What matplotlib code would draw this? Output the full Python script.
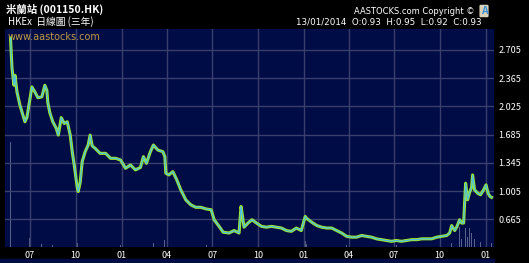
import matplotlib
matplotlib.use("Agg")
import matplotlib.pyplot as plt
import matplotlib.dates as mdates
import numpy as np
import pandas as pd

# ==========================================================
# DATA
# ==========================================================

dates = [
    "2011-05-23", "2011-05-26", "2011-05-30", "2011-06-01", "2011-06-05",
    "2011-06-11", "2011-06-17", "2011-06-21", "2011-06-25", "2011-06-29",
    "2011-07-05", "2011-07-11", "2011-07-17", "2011-07-25", "2011-07-31",
    "2011-08-04", "2011-08-06", "2011-08-10", "2011-08-16", "2011-08-23",
    "2011-08-27", "2011-09-02", "2011-09-08", "2011-09-14", "2011-09-20",
    "2011-09-24", "2011-09-28", "2011-10-04", "2011-10-06", "2011-10-10",
    "2011-10-14", "2011-10-20", "2011-10-26", "2011-10-30", "2011-11-03",
    "2011-11-09", "2011-11-19", "2011-11-30", "2011-12-10", "2011-12-20",
    "2011-12-30", "2012-01-09", "2012-01-19", "2012-01-29", "2012-02-08",
    "2012-02-14", "2012-02-20", "2012-02-28", "2012-03-05", "2012-03-14",
    "2012-03-24", "2012-03-28", "2012-03-30", "2012-04-05", "2012-04-13",
    "2012-04-21", "2012-04-29", "2012-05-09", "2012-05-19", "2012-05-29",
    "2012-06-08", "2012-06-19", "2012-06-29", "2012-07-05", "2012-07-15",
    "2012-07-23", "2012-08-04", "2012-08-14", "2012-08-24", "2012-08-28",
    "2012-08-30", "2012-09-03", "2012-09-11", "2012-09-19", "2012-09-28",
    "2012-10-08", "2012-10-18", "2012-10-28", "2012-11-07", "2012-11-17",
    "2012-11-27", "2012-12-07", "2012-12-17", "2012-12-27", "2013-01-04",
    "2013-01-06", "2013-01-17", "2013-01-27", "2013-02-06", "2013-02-16",
    "2013-02-26", "2013-03-08", "2013-03-18", "2013-03-28", "2013-04-07",
    "2013-04-17", "2013-04-27", "2013-05-07", "2013-05-17", "2013-05-27",
    "2013-06-06", "2013-06-26", "2013-07-06", "2013-07-16", "2013-07-27",
    "2013-08-06", "2013-08-16", "2013-08-26", "2013-09-05", "2013-09-15",
    "2013-09-25", "2013-10-05", "2013-10-15", "2013-10-21", "2013-10-25",
    "2013-10-31", "2013-11-04", "2013-11-10", "2013-11-14", "2013-11-18",
    "2013-11-22", "2013-11-26", "2013-11-30", "2013-12-04", "2013-12-06",
    "2013-12-10", "2013-12-16", "2013-12-22", "2013-12-28", "2014-01-02",
    "2014-01-06", "2014-01-10", "2014-01-13",
]

close = [
    2.85, 2.49, 2.28, 2.40, 2.20,
    2.04, 1.92, 1.84, 1.89, 2.04,
    2.26, 2.20, 2.13, 2.14, 2.28,
    2.22, 2.07, 1.95, 1.84, 1.76,
    1.68, 1.89, 1.82, 1.84, 1.68,
    1.48, 1.32, 1.05, 1.00, 1.11,
    1.36, 1.48, 1.56, 1.68, 1.55,
    1.52, 1.46, 1.46, 1.40, 1.40,
    1.38, 1.28, 1.32, 1.26, 1.29,
    1.42, 1.34, 1.48, 1.56, 1.50,
    1.48, 1.42, 1.22, 1.20, 1.24,
    1.14, 1.02, 0.90, 0.84, 0.81,
    0.81, 0.79, 0.78, 0.66, 0.58,
    0.51, 0.50, 0.53, 0.50, 0.82,
    0.74, 0.57, 0.62, 0.66, 0.62,
    0.58, 0.57, 0.58, 0.57, 0.56,
    0.53, 0.52, 0.56, 0.53, 0.70,
    0.68, 0.63, 0.59, 0.57, 0.56,
    0.56, 0.53, 0.50, 0.46, 0.45,
    0.45, 0.47, 0.46, 0.45, 0.43,
    0.42, 0.40, 0.41, 0.40, 0.41,
    0.42, 0.42, 0.43, 0.43, 0.43,
    0.45, 0.46, 0.47, 0.50, 0.59,
    0.53, 0.57, 0.66, 0.62, 0.62,
    1.10, 0.90, 0.99, 1.05, 1.20,
    1.02, 0.98, 0.96, 1.02, 1.08,
    0.98, 0.94, 0.93,
]

vol_dates = [
    "2011-05-23", "2011-05-26", "2011-05-30", "2011-06-05", "2011-06-17",
    "2011-07-01", "2011-07-25", "2011-08-16", "2011-10-04", "2011-12-30",
    "2012-03-05", "2012-03-28", "2012-06-19", "2012-08-28", "2012-09-03",
    "2013-01-04", "2013-01-06", "2013-03-28", "2013-07-06", "2013-10-25",
    "2013-11-10", "2013-11-14", "2013-11-22", "2013-11-26", "2013-11-30",
    "2013-12-04", "2013-12-10", "2013-12-22", "2014-01-02", "2014-01-06",
    "2014-01-13",
]

# volume, million shares
volume = [
    10.5, 1.7, 0.8, 0.5, 0.3,
    0.9, 0.3, 0.2, 0.4, 0.2,
    0.4, 0.7, 0.2, 1.2, 0.4,
    0.6, 0.3, 0.2, 0.2, 0.4,
    2.0, 0.8, 1.9, 1.0, 1.9,
    1.4, 0.8, 0.5, 0.6, 1.5,
    0.4,
]

price_ticks = [0.665, 1.005, 1.345, 1.685, 2.025, 2.365, 2.705]

dates = pd.to_datetime(dates)
vol_dates = pd.to_datetime(vol_dates)

# ==========================================================
# PLOT
# ==========================================================

plt.rcParams["font.family"] = ["Noto Sans CJK TC", "DejaVu Sans"]

W, H = 529, 263
fig = plt.figure(figsize=(W / 100, H / 100), dpi=100, facecolor="black")

x0, x1, y0, y1 = 5, 494, 29, 247
ax = fig.add_axes([x0 / W, 1 - y1 / H, (x1 - x0) / W, (y1 - y0) / H])

# volume on its own scale, behind the price
axv = ax.twinx()
axv.bar(vol_dates, volume, width=1.6, color="#596089", zorder=1)
axv.set_ylim(0, 21.8)
axv.set_yticks([])
axv.set_zorder(0)
ax.set_zorder(1)
ax.patch.set_visible(False)
axv.patch.set_facecolor("#000c46")
axv.patch.set_visible(True)

ax.plot(dates, close, color="#a6ee1c", lw=2.2, zorder=3)
ax.plot(dates, close, color="#4cbde8", lw=0.9, zorder=4)

ax.set_xlim(pd.Timestamp("2011-05-12"), pd.Timestamp("2014-01-18"))
ax.set_ylim(0.3315, 2.958)

ax.set_yticks(price_ticks)
ax.set_yticklabels([f"{t:.3f}" for t in price_ticks])
ax.yaxis.tick_right()

ax.xaxis.set_major_locator(mdates.MonthLocator(bymonth=[1, 4, 7, 10]))
ax.xaxis.set_major_formatter(mdates.DateFormatter("%m"))

ax.tick_params(axis="both", colors="white", labelsize=6.5, length=0, pad=3)

ax.grid(color="#3a3f6e", lw=1.0)
ax.set_axisbelow(True)
for s in list(ax.spines.values()) + list(axv.spines.values()):
    s.set_visible(False)

# ==========================================================
# TEXTS
# ==========================================================

fig.text(6 / W, 1 - 9 / H, "米蘭站 (001150.HK)", color="white",
         fontsize=7.5, fontweight="bold", va="center")
fig.text(8 / W, 1 - 22 / H, "HKEx  日線圖 (三年)", color="white",
         fontsize=7, va="center")
fig.text(475 / W, 1 - 11 / H, "AASTOCKS.com Copyright ©", color="white",
         fontsize=6.0, ha="right", va="center", family="DejaVu Sans")
fig.text(482 / W, 1 - 22 / H,
         "13/01/2014  O:0.93  H:0.95  L:0.92  C:0.93",
         color="white", fontsize=6.3, ha="right", va="center",
         family="DejaVu Sans")
fig.text(484 / W, 1 - 11 / H, "A", color="#3d8fd8", fontsize=7.5,
         fontweight="bold", ha="center", va="center",
         bbox=dict(boxstyle="round,pad=0.12", fc="#d9d2b8", ec="none"))
ax.text(0.006, 0.985, "www.aastocks.com", transform=ax.transAxes,
        color="#c09a40", fontsize=7, va="top", family="DejaVu Sans")

fig.patches.append(plt.Rectangle((0, 0), x1 / W, 4 / H, transform=fig.transFigure,
                                 color="#000c46", zorder=0))

plt.savefig("out.png", dpi=100, facecolor="black")
